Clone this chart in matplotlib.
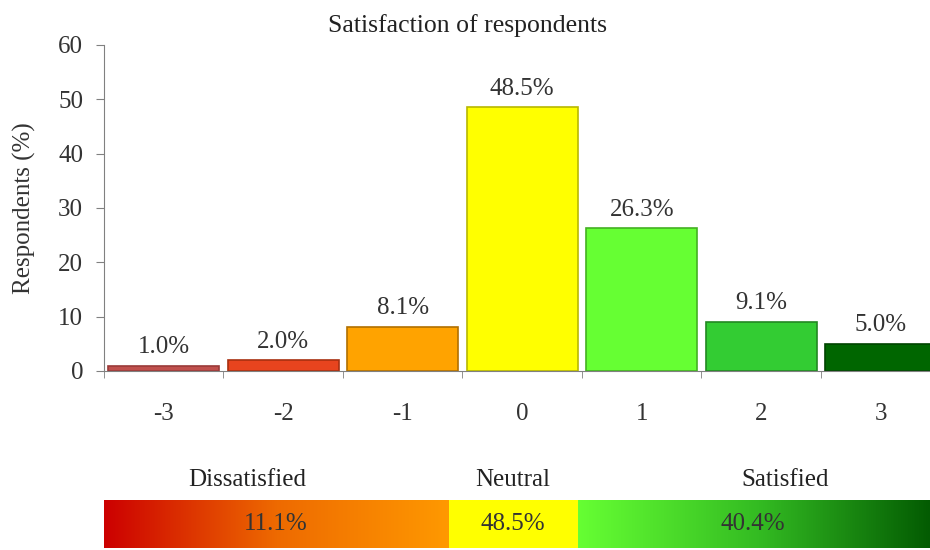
import numpy as np
import matplotlib.pyplot as plt
from matplotlib.colors import LinearSegmentedColormap

plt.rcParams['font.family'] = ['Liberation Serif', 'DejaVu Serif']

#####################################
# data
#####################################
scores = [-3, -2, -1, 0, 1, 2, 3]
percent = [1.0, 2.0, 8.1, 48.5, 26.3, 9.1, 5.0]
bar_colors = ['#c0504d', '#e8441e', '#ffa300', '#ffff00', '#66ff33', '#33cc33', '#006600']
edge_colors = ['#9a3a38', '#a83010', '#b07000', '#b8b800', '#44b022', '#228822', '#004400']

groups = ['Dissatisfied', 'Neutral', 'Satisfied']
group_pct = [11.1, 48.5, 40.4]

#####################################
# figure
#####################################
fs = 18
fig = plt.figure(figsize=(9.3, 5.5), dpi=100)
ax = fig.add_axes([0.1118, 0.3255, 0.8995, 0.5927])

ax.bar(scores, percent, width=0.93, color=bar_colors, edgecolor=edge_colors, linewidth=1.2)
for xv, yv in zip(scores, percent):
    ax.text(xv, yv + 2.3, '%.1f%%' % yv, ha='center', va='baseline', fontsize=fs, color='#333333')

ax.set_xlim(-3.5, 3.5)
ax.set_ylim(0, 60)
ax.set_yticks(range(0, 61, 10))
ax.set_xticks(scores)
ax.set_xticklabels([str(s) for s in scores])
ax.set_xticks(np.arange(-3.5, 3.6, 1), minor=True)
ax.tick_params(axis='x', which='major', length=0, pad=23, labelsize=fs, labelcolor='#333333')
ax.tick_params(axis='x', which='minor', length=5, color='#808080', direction='out')
ax.tick_params(axis='y', length=6, pad=9, color='#808080', labelsize=fs, labelcolor='#333333')
for side in ['top', 'right']:
    ax.spines[side].set_visible(False)
for side in ['left', 'bottom']:
    ax.spines[side].set_color('#808080')
ax.set_ylabel('Respondents (%)', fontsize=fs, color='#333333')
ax.yaxis.set_label_coords(-0.081, 0.5)
ax.set_title('Satisfaction of respondents', fontsize=18.5, pad=9, color='#222222', x=0.435)

#####################################
# summary strip
#####################################
bx = fig.add_axes([0.1118, 0.0036, 0.8995, 0.0873])
bx.set_xlim(-3.5, 3.5)
bx.set_ylim(0, 1)
bx.axis('off')

edges = [-3.5, -0.61, 0.47, 3.5]
cmaps = [LinearSegmentedColormap.from_list('d', ['#cc0000', '#ee6a00', '#ff9900']),
         LinearSegmentedColormap.from_list('n', ['#ffff00', '#ffff00']),
         LinearSegmentedColormap.from_list('s', ['#66ff33', '#33bb22', '#005500'])]
grad = np.linspace(0, 1, 256).reshape(1, -1)
for i in range(3):
    bx.imshow(grad, cmap=cmaps[i], aspect='auto', extent=[edges[i], edges[i + 1], 0, 1])

label_x = [-2.30, -0.08, 2.20]
pct_x = [-2.06, -0.08, 1.93]
for i in range(3):
    bx.text(label_x[i], 1.42, groups[i], ha='center', va='center', fontsize=fs, color='#222222')
    bx.text(pct_x[i], 0.5, '%.1f%%' % group_pct[i], ha='center', va='center', fontsize=fs, color='#333333')

fig.savefig('out.png', dpi=100)
